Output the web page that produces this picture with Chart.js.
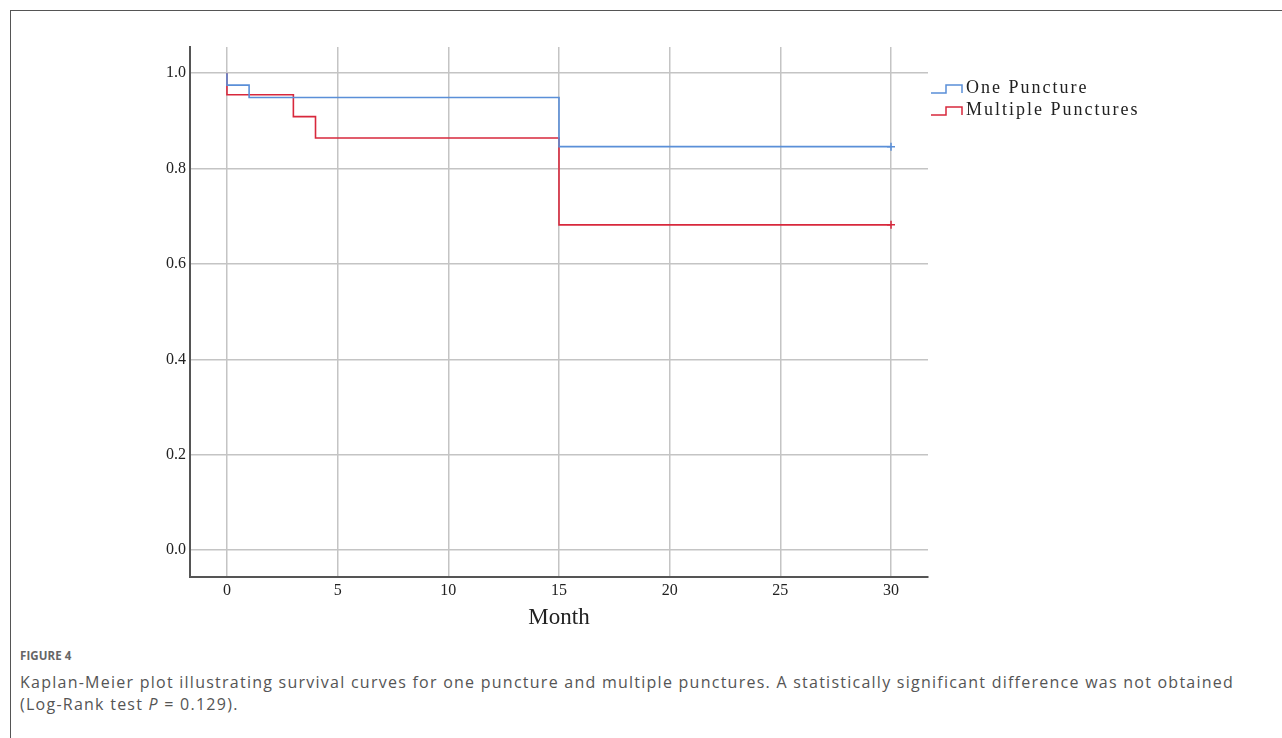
<!DOCTYPE html>
<html>
<head>
<meta charset="utf-8">
<script src="https://cdn.jsdelivr.net/npm/chart.js@4.4.1/dist/chart.umd.min.js"></script>
<style>
  html, body { margin: 0; padding: 0; background: #fff; }
  body { width: 1282px; height: 738px; position: relative; overflow: hidden; }
  #frame { position: absolute; left: 10px; top: 10px; width: 1290px; height: 740px;
    border-left: 1.5px solid #555; border-top: 1.5px solid #555; }
  #wrap { position: absolute; left: 0; top: 0; width: 1282px; height: 640px; }
  #cap { position: absolute; left: 20px; top: 648px; width: 1255px; font-family: "Open Sans", sans-serif; color: #555; }
  #cap .fig { font-size: 11.5px; font-weight: 700; color: #666; letter-spacing: 0.1px; margin-bottom: 8px; }
  #cap .txt { font-size: 16px; line-height: 22px; letter-spacing: 1.25px; white-space: nowrap; }
</style>
</head>
<body>
<div id="frame"></div>
<div id="wrap"><canvas id="grafico" width="1282" height="640"></canvas></div>
<div id="cap">
  <div class="fig">FIGURE 4</div>
  <div class="txt">Kaplan-Meier plot illustrating survival curves for one puncture and multiple punctures. A statistically significant difference was not obtained<br>(Log-Rank test <i>P</i> = 0.129).</div>
</div>
<script>
// survival steps (month, survival)
const oneMonths = [0, 0, 1, 15, 30]
const oneSurv = [1.0, 0.975, 0.949, 0.846, 0.846]
const multiMonths = [0, 0, 3, 4, 15, 30]
const multiSurv = [1.0, 0.955, 0.909, 0.864, 0.682, 0.682]
const xTicks = [0, 5, 10, 15, 20, 25, 30]
const yTicks = [0, 0.2, 0.4, 0.6, 0.8, 1.0]
const seriesNames = ['One Puncture', 'Multiple Punctures']

const azul = '#5a8fd8'
const vermelho = '#d8283c'
const fonte = '"Liberation Serif", "DejaVu Serif", serif'

function pontos(xs, ys) {
  return xs.map((x, i) => ({ x, y: ys[i] }))
}

// last point of each curve is censored -> small cross
function estiloPonto(n) {
  return ctx => ctx.dataIndex === n - 1 ? 'cross' : false
}

const legendaDegrau = {
  id: 'legendaDegrau',
  afterDraw(chart) {
    const ctx = chart.ctx
    const x0 = 931
    chart.data.datasets.forEach((ds, i) => {
      const y = 88 + i * 22
      ctx.save()
      ctx.strokeStyle = ds.borderColor
      ctx.lineWidth = 1.5
      ctx.beginPath()
      ctx.moveTo(x0, y + 5)
      ctx.lineTo(x0 + 15, y + 5)
      ctx.lineTo(x0 + 15, y - 3)
      ctx.lineTo(x0 + 31, y - 3)
      ctx.lineTo(x0 + 31, y + 5)
      ctx.stroke()
      ctx.fillStyle = '#222'
      ctx.font = '18px ' + fonte
      ctx.letterSpacing = '2px'
      ctx.textBaseline = 'middle'
      ctx.fillText(ds.label, x0 + 35, y)
      ctx.restore()
    })
  }
}

const ctx = document.getElementById('grafico').getContext('2d')
new Chart(ctx, {
  type: 'line',
  data: {
    datasets: [{
      label: seriesNames[0],
      data: pontos(oneMonths, oneSurv),
      borderColor: azul,
      borderWidth: 1.6,
      stepped: 'before',
      fill: false,
      pointStyle: estiloPonto(oneMonths.length),
      pointRadius: 4,
      pointBorderColor: azul,
      pointBorderWidth: 1.5
    }, {
      label: seriesNames[1],
      data: pontos(multiMonths, multiSurv),
      borderColor: vermelho,
      borderWidth: 1.6,
      stepped: 'before',
      fill: false,
      pointStyle: estiloPonto(multiMonths.length),
      pointRadius: 4,
      pointBorderColor: vermelho,
      pointBorderWidth: 1.5
    }]
  },
  options: {
    responsive: false,
    animation: false,
    layout: { padding: { left: 0, right: 354, top: 47, bottom: 8 } },
    plugins: {
      legend: { display: false },
      tooltip: { enabled: false }
    },
    scales: {
      x: {
        type: 'linear',
        min: -1.67,
        max: 31.67,
        afterBuildTicks: s => { s.ticks = xTicks.map(v => ({ value: v })) },
        ticks: { font: { family: fonte, size: 16 }, color: '#222', padding: 4, maxRotation: 0 },
        grid: { color: '#c4c4c4', lineWidth: 1.5, drawTicks: false },
        border: { display: true, color: '#555', width: 2 },
        title: { display: true, text: 'Month', font: { family: fonte, size: 23 }, color: '#222', padding: { top: 0, bottom: 0 } }
      },
      y: {
        min: -0.057,
        max: 1.055,
        afterBuildTicks: s => { s.ticks = yTicks.map(v => ({ value: v })) },
        afterFit: s => { s.width = 190 },
        ticks: { font: { family: fonte, size: 16 }, color: '#222', padding: 4, callback: v => v.toFixed(1) },
        grid: { color: '#c4c4c4', lineWidth: 1.5, drawTicks: false },
        border: { display: true, color: '#555', width: 2 }
      }
    }
  },
  plugins: [legendaDegrau]
})
</script>
</body>
</html>
